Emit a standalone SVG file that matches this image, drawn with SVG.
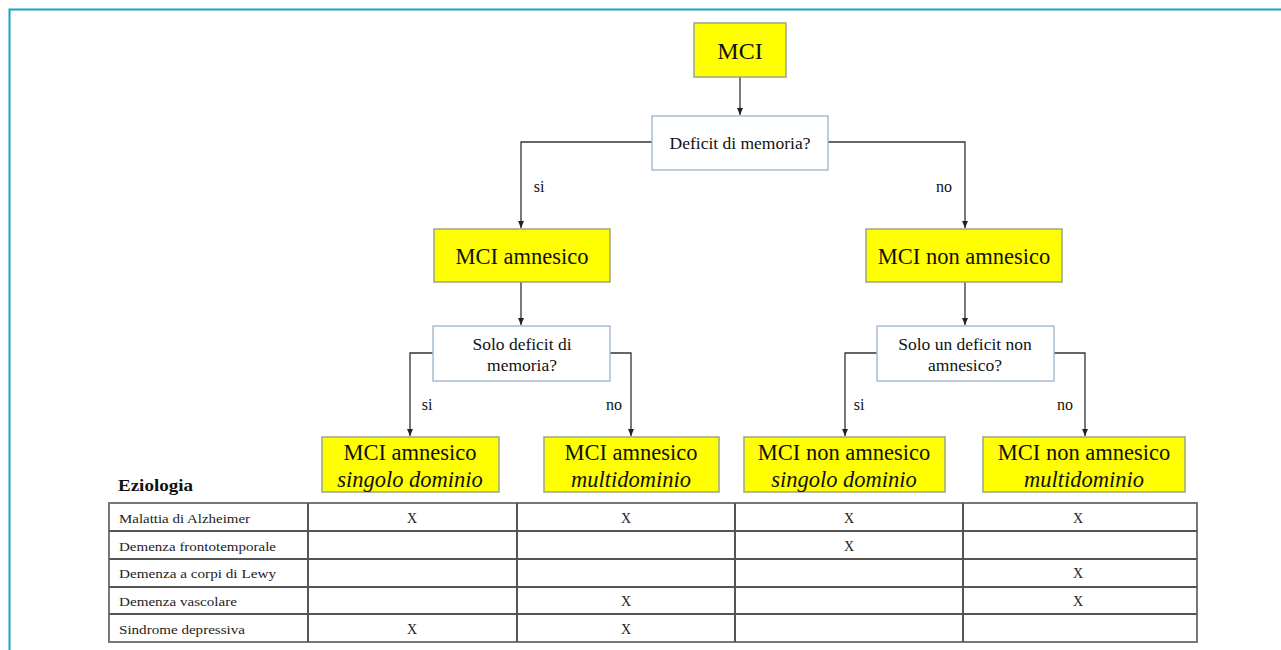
<svg xmlns="http://www.w3.org/2000/svg" width="1281" height="650" viewBox="0 0 1281 650">
<defs>
<marker id="arr" markerWidth="8" markerHeight="8" refX="7" refY="4" orient="auto" markerUnits="userSpaceOnUse">
<path d="M0,1 L7,4 L0,7 Z" fill="#222"/>
</marker>
<style>
.y{fill:#ffff00;stroke:#9aa58a;stroke-width:1.5}
.q{fill:#fff;stroke:#a9bccf;stroke-width:1.5}
.t{font-family:"Liberation Serif",serif;fill:#111;text-anchor:middle}
.big{font-size:22.5px}
.mid{font-size:17.5px}
.lab{font-size:16px}
.it{font-style:italic}
.c{fill:none;stroke:#333;stroke-width:1.3}
.g{stroke:#555;stroke-width:2;fill:none}
.cell{font-family:"Liberation Serif",serif;font-size:13px;fill:#222}
.x{font-family:"Liberation Serif",serif;font-size:14px;fill:#222;text-anchor:middle}
</style>
</defs>
<rect width="1281" height="650" fill="#fff"/>
<path d="M9.5,650 V9.5 H1281" fill="none" stroke="#1e9fc4" stroke-width="2"/>

<g id="connectors">
<path class="c" d="M740,77 V115" marker-end="url(#arr)"/>
<path class="c" d="M652,142 H521 V228" marker-end="url(#arr)"/>
<path class="c" d="M828,142 H965 V228" marker-end="url(#arr)"/>
<path class="c" d="M521,282 V325" marker-end="url(#arr)"/>
<path class="c" d="M965,282 V325" marker-end="url(#arr)"/>
<path class="c" d="M433,353 H410 V436" marker-end="url(#arr)"/>
<path class="c" d="M610,353 H631 V436" marker-end="url(#arr)"/>
<path class="c" d="M877,353 H845 V436" marker-end="url(#arr)"/>
<path class="c" d="M1054,353 H1085 V436" marker-end="url(#arr)"/>
<text class="t lab" x="539" y="192">si</text>
<text class="t lab" x="944" y="192">no</text>
<text class="t lab" x="427" y="410">si</text>
<text class="t lab" x="614" y="410">no</text>
<text class="t lab" x="859" y="410">si</text>
<text class="t lab" x="1065" y="410">no</text>
</g>

<g id="mci">
<rect class="y" x="694" y="23" width="92" height="54"/>
<text class="t" x="740" y="59" font-size="24">MCI</text>
</g>
<g id="q1">
<rect class="q" x="652" y="116" width="176" height="54"/>
<text class="t mid" x="740" y="149">Deficit di memoria?</text>
</g>
<g id="amnesico">
<rect class="y" x="434" y="229" width="176" height="53"/>
<text class="t big" x="522" y="264">MCI amnesico</text>
</g>
<g id="nonamnesico">
<rect class="y" x="866" y="229" width="196" height="53"/>
<text class="t big" x="964" y="264">MCI non amnesico</text>
</g>
<g id="q2">
<rect class="q" x="433" y="326" width="177" height="55"/>
<text class="t mid" x="522" y="350">Solo deficit di</text>
<text class="t mid" x="522" y="371">memoria?</text>
</g>
<g id="q3">
<rect class="q" x="877" y="326" width="177" height="55"/>
<text class="t mid" x="965" y="350">Solo un deficit non</text>
<text class="t mid" x="965" y="371">amnesico?</text>
</g>
<g id="a-singolo">
<rect class="y" x="322" y="437" width="177" height="55"/>
<text class="t big" x="410" y="460">MCI amnesico</text>
<text class="t big it" x="410" y="487">singolo dominio</text>
</g>
<g id="a-multi">
<rect class="y" x="544" y="437" width="175" height="55"/>
<text class="t big" x="631" y="460">MCI amnesico</text>
<text class="t big it" x="631" y="487">multidominio</text>
</g>
<g id="na-singolo">
<rect class="y" x="744" y="437" width="201" height="55"/>
<text class="t big" x="844" y="460">MCI non amnesico</text>
<text class="t big it" x="844" y="487">singolo dominio</text>
</g>
<g id="na-multi">
<rect class="y" x="983" y="437" width="202" height="55"/>
<text class="t big" x="1084" y="460">MCI non amnesico</text>
<text class="t big it" x="1084" y="487">multidominio</text>
</g>

<g id="table">
<text x="118" y="491" font-family="Liberation Serif,serif" font-size="16" font-weight="bold" fill="#111" textLength="75" lengthAdjust="spacingAndGlyphs">Eziologia</text>
<rect x="109" y="503" width="1088" height="139" fill="none" stroke="#777" stroke-width="2"/>
<path class="g" d="M109,531 H1197 M109,559 H1197 M109,587 H1197 M109,614 H1197"/>
<path class="g" d="M308,503 V642 M517,503 V642 M735,503 V642 M963,503 V642"/>
<text class="cell" x="119" y="523" textLength="131" lengthAdjust="spacingAndGlyphs">Malattia  di Alzheimer</text>
<text class="cell" x="119" y="551" textLength="157" lengthAdjust="spacingAndGlyphs">Demenza  frontotemporale</text>
<text class="cell" x="119" y="578" textLength="157" lengthAdjust="spacingAndGlyphs">Demenza  a corpi di Lewy</text>
<text class="cell" x="119" y="606" textLength="118" lengthAdjust="spacingAndGlyphs">Demenza  vascolare</text>
<text class="cell" x="119" y="634" textLength="126" lengthAdjust="spacingAndGlyphs">Sindrome  depressiva</text>
<text class="x" x="412" y="523">X</text>
<text class="x" x="626" y="523">X</text>
<text class="x" x="849" y="523">X</text>
<text class="x" x="1078" y="523">X</text>
<text class="x" x="849" y="551">X</text>
<text class="x" x="1078" y="578">X</text>
<text class="x" x="626" y="606">X</text>
<text class="x" x="1078" y="606">X</text>
<text class="x" x="412" y="634">X</text>
<text class="x" x="626" y="634">X</text>
</g>
</svg>
